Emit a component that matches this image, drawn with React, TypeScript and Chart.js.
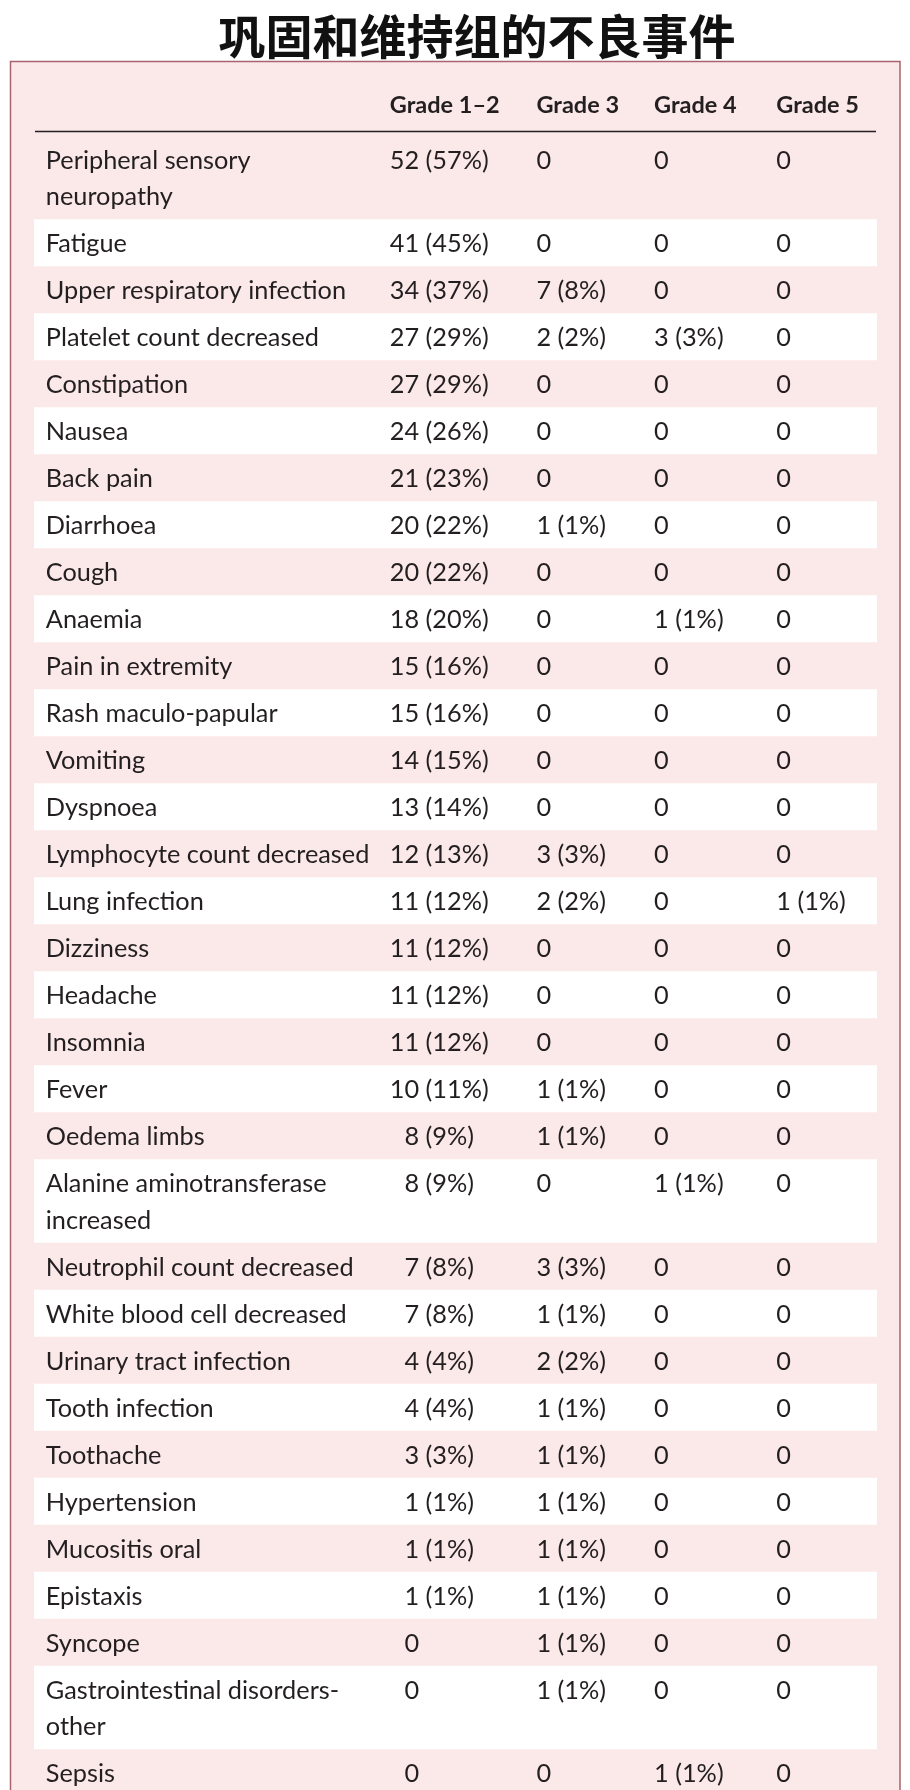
import React, { useEffect, useRef } from "react";
import { Chart, registerables } from "chart.js";

Chart.register(...registerables);

// ---------- data ----------
const TITLE = "巩固和维持组的不良事件";
const GRADES = ["Grade 1–2", "Grade 3", "Grade 4", "Grade 5"];

const EVENTS = [
  "Peripheral sensory\nneuropathy",
  "Fatigue",
  "Upper respiratory infection",
  "Platelet count decreased",
  "Constipation",
  "Nausea",
  "Back pain",
  "Diarrhoea",
  "Cough",
  "Anaemia",
  "Pain in extremity",
  "Rash maculo-papular",
  "Vomiting",
  "Dyspnoea",
  "Lymphocyte count decreased",
  "Lung infection",
  "Dizziness",
  "Headache",
  "Insomnia",
  "Fever",
  "Oedema limbs",
  "Alanine aminotransferase\nincreased",
  "Neutrophil count decreased",
  "White blood cell decreased",
  "Urinary tract infection",
  "Tooth infection",
  "Toothache",
  "Hypertension",
  "Mucositis oral",
  "Epistaxis",
  "Syncope",
  "Gastrointestinal disorders-\nother",
  "Sepsis",
];

const G12_N = [52, 41, 34, 27, 27, 24, 21, 20, 20, 18, 15, 15, 14, 13, 12, 11, 11, 11, 11, 10, 8, 8, 7, 7, 4, 4, 3, 1, 1, 1, 0, 0, 0];
const G12_PCT = [57, 45, 37, 29, 29, 26, 23, 22, 22, 20, 16, 16, 15, 14, 13, 12, 12, 12, 12, 11, 9, 9, 8, 8, 4, 4, 3, 1, 1, 1, 0, 0, 0];
const G3_N = [0, 0, 7, 2, 0, 0, 0, 1, 0, 0, 0, 0, 0, 0, 3, 2, 0, 0, 0, 1, 1, 0, 3, 1, 2, 1, 1, 1, 1, 1, 1, 1, 0];
const G3_PCT = [0, 0, 8, 2, 0, 0, 0, 1, 0, 0, 0, 0, 0, 0, 3, 2, 0, 0, 0, 1, 1, 0, 3, 1, 2, 1, 1, 1, 1, 1, 1, 1, 0];
const G4_N = [0, 0, 0, 3, 0, 0, 0, 0, 0, 1, 0, 0, 0, 0, 0, 0, 0, 0, 0, 0, 0, 1, 0, 0, 0, 0, 0, 0, 0, 0, 0, 0, 1];
const G4_PCT = [0, 0, 0, 3, 0, 0, 0, 0, 0, 1, 0, 0, 0, 0, 0, 0, 0, 0, 0, 0, 0, 1, 0, 0, 0, 0, 0, 0, 0, 0, 0, 0, 1];
const G5_N = [0, 0, 0, 0, 0, 0, 0, 0, 0, 0, 0, 0, 0, 0, 0, 1, 0, 0, 0, 0, 0, 0, 0, 0, 0, 0, 0, 0, 0, 0, 0, 0, 0];
const G5_PCT = [0, 0, 0, 0, 0, 0, 0, 0, 0, 0, 0, 0, 0, 0, 0, 1, 0, 0, 0, 0, 0, 0, 0, 0, 0, 0, 0, 0, 0, 0, 0, 0, 0];

const COUNTS = [G12_N, G3_N, G4_N, G5_N];
const PCTS = [G12_PCT, G3_PCT, G4_PCT, G5_PCT];

// ---------- layout / style ----------
const CANVAS_W = 910;
const CANVAS_H = 1790;
const ROW_PX = 47;
const LINE_PX = 36.5;
const TABLE_TOP = 135.75;
const TABLE_LEFT = 34;
const TABLE_RIGHT = 877;
const COL_X = [1.4, 42.2, 59.6, 73.55, 88.05]; // percent of table width
const BODY_FONT = '25.3px Lato';
const HEAD_FONT = 'bold 23.5px Lato';
const TITLE_FONT = '600 47px "Noto Sans CJK SC"';
const TEXT_COLOR = '#231f20';
const PINK = '#fbe8e8';
const BORDER = '#a8636f';

const LINES = EVENTS.map((e) => e.split("\n"));
const ROW_UNITS = LINES.map((l) => 1 + (l.length - 1) * (LINE_PX / ROW_PX));
const ROW_TOPS: number[] = [];
ROW_UNITS.reduce((acc, h) => {
  ROW_TOPS.push(acc);
  return acc + h;
}, 0);

const tablePlugin = {
  id: 'tablePlugin',
  beforeDraw(chart: any) {
    const ctx = chart.ctx;
    const xs = chart.scales.x;
    ctx.save();
    ctx.fillStyle = '#ffffff';
    ctx.fillRect(0, 0, CANVAS_W, CANVAS_H);
    // box
    ctx.fillStyle = PINK;
    ctx.fillRect(10, 61.5, 890, CANVAS_H);
    ctx.strokeStyle = BORDER;
    ctx.lineWidth = 1.5;
    ctx.strokeRect(10.5, 61.5, 889.5, CANVAS_H + 20);
    // title
    ctx.fillStyle = '#111111';
    ctx.font = TITLE_FONT;
    ctx.textAlign = 'center';
    ctx.textBaseline = 'alphabetic';
    ctx.fillText(TITLE, 477, 54);
    // header
    ctx.font = HEAD_FONT;
    ctx.fillStyle = TEXT_COLOR;
    ctx.textAlign = 'left';
    GRADES.forEach((g, c) => {
      ctx.fillText(g, xs.getPixelForValue(COL_X[c + 1]), 113);
    });
    // rule
    ctx.strokeStyle = '#231f20';
    ctx.lineWidth = 1.3;
    ctx.beginPath();
    ctx.moveTo(xs.left + 1, 131.5);
    ctx.lineTo(xs.right - 1, 131.5);
    ctx.stroke();
    ctx.restore();
  },
  beforeDatasetsDraw(chart: any) {
    const ctx = chart.ctx;
    const xs = chart.scales.x;
    const ys = chart.scales.y;
    ctx.save();
    ctx.fillStyle = '#ffffff';
    ROW_TOPS.forEach((top, i) => {
      if (i % 2 === 1) {
        const y0 = ys.getPixelForValue(top);
        const y1 = ys.getPixelForValue(top + ROW_UNITS[i]);
        ctx.fillRect(xs.left, y0, xs.right - xs.left, y1 - y0);
      }
    });
    ctx.restore();
  },
  afterDatasetsDraw(chart: any) {
    const ctx = chart.ctx;
    const ys = chart.scales.y;
    const lineStep = ys.getPixelForValue(LINE_PX / ROW_PX) - ys.getPixelForValue(0);
    ctx.save();
    ctx.font = BODY_FONT;
    ctx.fillStyle = TEXT_COLOR;
    ctx.textBaseline = 'alphabetic';
    const base = 9.3;
    const digitW = ctx.measureText('0').width;
    chart.data.datasets.forEach((ds: any, di: number) => {
      const meta = chart.getDatasetMeta(di);
      meta.data.forEach((pt: any, i: number) => {
        const x = pt.x;
        const y = pt.y;
        if (di === 0) {
          ctx.textAlign = 'left';
          LINES[i].forEach((line, k) => ctx.fillText(line, x, y + base + k * lineStep));
        } else {
          const c = di - 1;
          const n = COUNTS[c][i];
          const maxDigits = Math.max(...COUNTS[c].map((v) => String(v).length));
          const edge = x + maxDigits * digitW;
          ctx.textAlign = 'right';
          ctx.fillText(String(n), edge, y + base);
          if (n > 0) {
            ctx.textAlign = 'left';
            ctx.fillText(' (' + PCTS[c][i] + '%)', edge, y + base);
          }
        }
      });
    });
    ctx.restore();
  },
};

export default function App() {
  const ref = useRef<HTMLCanvasElement | null>(null);
  useEffect(() => {
    if (!ref.current) return;
    const datasets = [
      {
        label: 'Adverse event',
        data: EVENTS.map((_, i) => ({ x: COL_X[0], y: ROW_TOPS[i] + 0.5 })),
        pointRadius: 0,
        pointHoverRadius: 0,
      },
      ...GRADES.map((g, c) => ({
        label: g,
        data: EVENTS.map((_, i) => ({ x: COL_X[c + 1], y: ROW_TOPS[i] + 0.5 })),
        pointRadius: 0,
        pointHoverRadius: 0,
      })),
    ];
    const chart = new Chart(ref.current, {
      type: 'scatter',
      data: { datasets },
      options: {
        responsive: false,
        animation: false,
        events: [],
        layout: {
          padding: { top: TABLE_TOP, left: TABLE_LEFT, right: CANVAS_W - TABLE_RIGHT, bottom: 0 },
        },
        scales: {
          x: { type: 'linear', min: 0, max: 100, display: false },
          y: { type: 'linear', min: 0, max: (CANVAS_H - TABLE_TOP) / ROW_PX, reverse: true, display: false },
        },
        plugins: {
          legend: { display: false },
          tooltip: { enabled: false },
          title: { display: false },
        },
      },
      plugins: [tablePlugin],
    } as any);
    return () => chart.destroy();
  }, []);
  return (
    <div style={{ position: 'absolute', left: 0, top: 0, width: CANVAS_W, height: CANVAS_H }}>
      <canvas ref={ref} width={CANVAS_W} height={CANVAS_H} style={{ display: 'block' }} />
    </div>
  );
}
